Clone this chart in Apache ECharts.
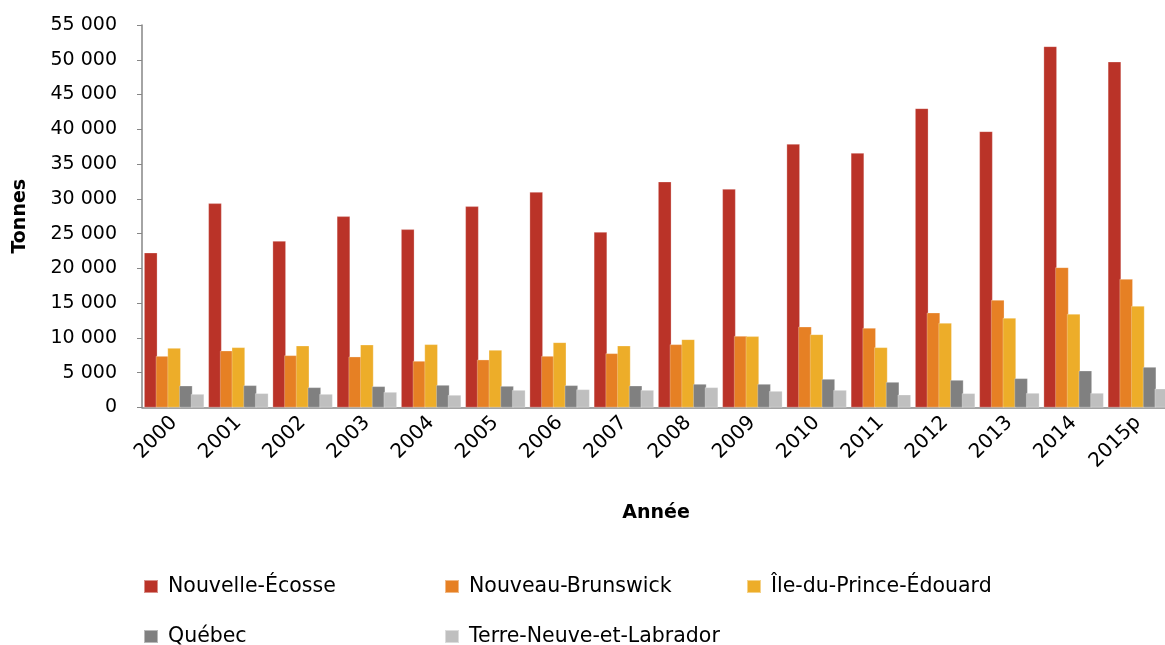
<!DOCTYPE html>
<html>
<head>
<meta charset="utf-8">
<script src="https://cdn.jsdelivr.net/npm/echarts@6/dist/echarts.min.js"></script>
<style>
  html, body { margin: 0; padding: 0; background: #fff; }
  #chart { width: 1165px; height: 645px; }
</style>
</head>
<body>
<div id="chart"></div>
<script>
const years = ['2000', '2001', '2002', '2003', '2004', '2005', '2006', '2007',
  '2008', '2009', '2010', '2011', '2012', '2013', '2014', '2015p'];

const nouvelleEcosse = [22260, 29360, 23940, 27490, 25620, 28930, 30985, 25230,
  32470, 31415, 37890, 36590, 43015, 39710, 51930, 49720];
const nouveauBrunswick = [7400, 8170, 7500, 7310, 6690, 6880, 7405, 7790,
  9085, 10280, 11620, 11430, 13635, 15455, 20155, 18475];
const ilePrinceEdouard = [8555, 8650, 8890, 9030, 9085, 8270, 9370, 8890,
  9800, 10235, 10520, 8650, 12150, 12870, 13445, 14595];
const quebec = [3135, 3190, 2900, 3045, 3235, 3090, 3190, 3135,
  3380, 3380, 4100, 3665, 3955, 4195, 5295, 5825];
const terreNeuve = [1940, 2040, 1940, 2230, 1800, 2515, 2610, 2515,
  2900, 2370, 2515, 1845, 2040, 2085, 2085, 2705];

const seriesNames = ['Nouvelle-Écosse', 'Nouveau-Brunswick', 'Île-du-Prince-Édouard',
  'Québec', 'Terre-Neuve-et-Labrador'];
const seriesData = [nouvelleEcosse, nouveauBrunswick, ilePrinceEdouard, quebec, terreNeuve];
const colors = ['#ba3328', '#e68024', '#edad29', '#808080', '#bfbfbf'];

const font = 'DejaVu Sans';
const fmt = (v) => String(v).replace(/\B(?=(\d{3})+(?!\d))/g, ' ');

// legend placed item by item, two rows of three columns
const legendPos = [[143, 575], [444, 575], [746, 575], [143, 625], [444, 625]];

const chart = echarts.init(document.getElementById('chart'));
chart.setOption({
  animation: false,
  color: colors,
  textStyle: { fontFamily: font, color: '#000' },
  grid: { left: 142, top: 25, right: -5, bottom: 237.5, containLabel: false, outerBoundsMode: 'none' },
  legend: seriesNames.map((name, i) => ({
    data: [name],
    left: legendPos[i][0],
    top: legendPos[i][1],
    padding: 0,
    itemWidth: 14,
    itemHeight: 13,
    itemGap: 0,
    icon: 'rect',
    textStyle: { fontFamily: font, fontSize: 20.5, lineHeight: 23, color: '#000', padding: [0, 0, 0, 5] },
  })),
  xAxis: {
    type: 'category',
    data: years,
    name: 'Année',
    nameLocation: 'middle',
    nameGap: 96,
    nameTextStyle: { fontFamily: font, fontSize: 19, fontWeight: 'bold', color: '#000' },
    axisLine: { lineStyle: { color: '#868686', width: 1.5 } },
    axisTick: { length: 6, lineStyle: { color: '#868686' } },
    axisLabel: { rotate: 45, fontSize: 20, color: '#000', margin: 12, fontFamily: font },
  },
  yAxis: {
    type: 'value',
    min: 0,
    max: 55000,
    interval: 5000,
    name: 'Tonnes',
    nameLocation: 'middle',
    nameRotate: 90,
    nameGap: 112,
    nameTextStyle: { fontFamily: font, fontSize: 19, fontWeight: 'bold', color: '#000' },
    splitLine: { show: false },
    axisLine: { show: true, lineStyle: { color: '#868686', width: 1.5 } },
    axisTick: { show: true, length: 5, lineStyle: { color: '#868686' } },
    axisLabel: { fontSize: 19, color: '#000', margin: 25, fontFamily: font, formatter: fmt },
  },
  series: seriesNames.map((name, i) => ({
    name,
    type: 'bar',
    data: seriesData[i],
    barGap: '-12%',
    barCategoryGap: '6.5%',
    itemStyle: { borderColor: 'rgba(255,255,255,0.45)', borderWidth: 0.6 },
  })),
});
</script>
</body>
</html>
